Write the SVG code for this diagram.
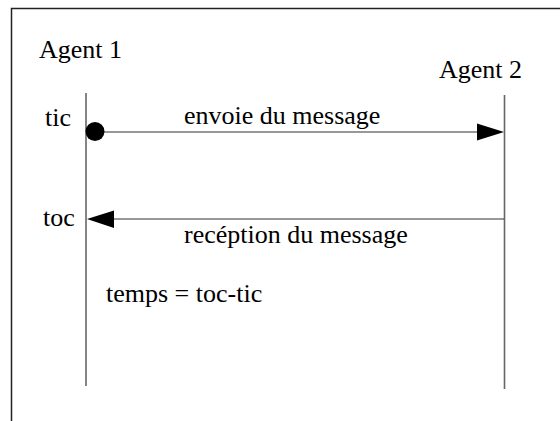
<svg xmlns="http://www.w3.org/2000/svg" width="560" height="421" viewBox="0 0 560 421">
<style>
text{font-family:"Liberation Serif","Times New Roman",serif;font-size:26px;fill:#000}
.frame{stroke:#222;stroke-width:1.5;fill:none}
.life{stroke:#666;stroke-width:1.6;fill:none}
.msg{stroke:#333;stroke-width:1.2;fill:none}
.head{fill:#000}
</style>
<rect width="560" height="421" fill="#fff"/>
<path class="frame" d="M11.5,421 V8.5 H560"/>
<g id="agent1">
<text x="39" y="58">Agent 1</text>
<line class="life" x1="86" y1="93" x2="86" y2="386"/>
<text x="45" y="126">tic</text>
<text x="43" y="226">toc</text>
<text x="106" y="302">temps = toc-tic</text>
</g>
<g id="agent2">
<text x="439" y="78">Agent 2</text>
<line class="life" x1="504.5" y1="95" x2="504.5" y2="389"/>
</g>
<g id="connectors">
<g id="msg1">
<line class="msg" x1="95" y1="132" x2="480" y2="132"/>
<circle class="head" cx="95" cy="131.5" r="9.5"/>
<polygon class="head" points="504,132 477,123.5 477,140.5"/>
<text x="184" y="124">envoie du message</text>
</g>
<g id="msg2">
<line class="msg" x1="110" y1="219" x2="504" y2="219"/>
<polygon class="head" points="87,219 114,210.5 114,228"/>
<text x="184" y="243">recéption du message</text>
</g>
</g>
</svg>
